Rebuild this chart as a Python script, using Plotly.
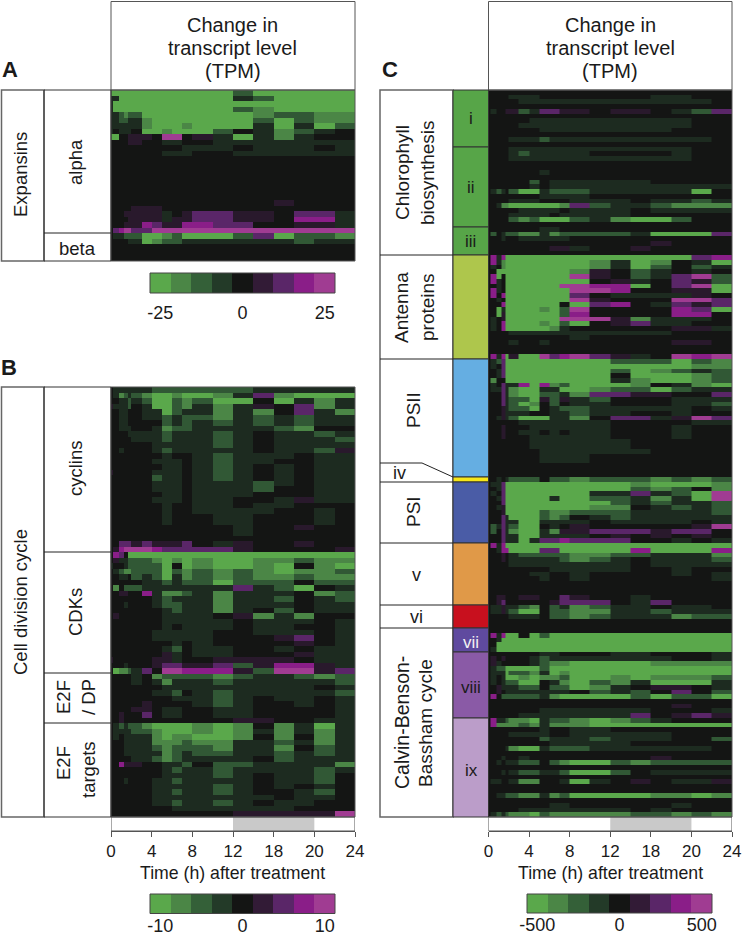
import plotly.graph_objects as go

# Time edges of the 19 measured intervals (hours)
time_edges = [0, 0.16, 0.82, 1.25, 1.64, 2, 3, 4, 5, 6, 7, 8, 10, 12, 14, 16, 18, 20, 22, 24]
tick_vals = [0, 4, 8, 12, 16, 20, 24]
tick_text = ["0", "4", "8", "12", "18", "20", "24"]

# Each row: 19 colour levels. 0 = most green, 4 = zero, 8 = most magenta.
alpha = [
"000000 00000 00200000",
"330000 00000 00320000",
"300000 00000 00000000",
"300000 00000 00210000",
"332122 00000 00012211",
"332233 10000 00020211",
"333333 10001 00030302",
"343334 00100 02431234",
"004455 54884 53031344",
"444455 44334 43333333",
"444444 44443 33433343",
"444444 44333 44333333",
"444444 44444 44444444",
"444444 44444 44444444",
"444444 44444 44444444",
"444444 44444 44444444",
"444444 44444 44444444",
"444444 44444 44444444",
"444444 44444 44444444",
"444444 44444 44444444",
"444444 44444 44445444",
"444445 55444 44444444",
"444555 55345 66554663",
"444455 55355 66554773",
"444555 76557 76644553",
"467886 68888 88888888",
]
beta = [
"433222 00120 00260221",
"444433 01223 33333233",
"444444 44444 44444444",
"444444 44444 44444444",
"444444 44444 44444444",
]
cyclins = [
"433333 32222 22233333",
"431232 10010 01361000",
"443323 20021 20040313",
"533324 30021 31354613",
"443344 33023 31314631",
"443344 33232 21323233",
"443344 44232 32323233",
"443334 43122 33332144",
"444433 33233 32343323",
"444443 33233 32343332",
"444444 43333 32343333",
"443444 43233 33343325",
"444444 44344 32333433",
"444444 43334 32334433",
"444444 44334 32343433",
"544444 43334 32343433",
"444444 42334 32343433",
"444444 43334 33323433",
"444444 43334 33324433",
"444444 44334 33344433",
"444444 43334 33443533",
"444444 44344 33433444",
"444444 44344 33334434",
"444444 44344 43344434",
"444444 44344 43344434",
"444444 44444 44344544",
"444444 44444 44344444",
"444444 44444 44444444",
"446665 65556 43544544",
"457888 87666 66544445",
]
cdks = [
"476400 00000 00000000",
"453322 21010 10011211",
"344322 22040 10010410",
"432112 22021 21210112",
"443342 32031 21211211",
"444444 33232 20222422",
"414222 33333 33632043",
"445544 73112 31333412",
"444444 43233 31332432",
"444344 43223 31333433",
"444444 44323 31342433",
"454444 44333 34513144",
"444444 44333 33433343",
"444444 44343 33433443",
"444444 43333 34433343",
"444444 43333 34445643",
"444444 44434 34444543",
"444444 44324 33443433",
"444444 44534 33444533",
"544444 45534 45555433",
"444344 45665 56257753",
"401123 64887 77528856",
]
e2f_dp = [
"444443 41222 21233212",
"444443 43133 32333332",
"444444 44333 33333343",
"444444 43324 32333332",
"444444 44433 32343343",
"444444 54444 32344343",
"444445 54334 43344443",
"445444 64334 43344443",
"445444 44444 44554433",
]
e2f_targets = [
"432322 10000 10141303",
"433332 21000 10131313",
"434333 31011 00141413",
"444333 31112 11332313",
"444333 32122 21331423",
"444333 33123 22332323",
"444443 32123 33342333",
"447555 44332 42233331",
"444444 44323 32333323",
"444444 44333 32343324",
"444344 43323 33343324",
"444444 43333 32343434",
"444444 43323 32344324",
"444444 43333 33334334",
"444444 43323 32343344",
"444444 44433 33333444",
"444444 44444 44555558",
]
chl_i = [
"44444 444444 44444444",
"44444 333444 44443344",
"44444 433333 33333334",
"44444 444444 44444444",
"43445 523665 54554326",
"44444 444444 44444444",
"44444 443333 33333344",
"44444 433333 33333344",
"44444 444333 33333444",
"44444 444444 44444444",
"44444 333233 33333334",
"44444 444444 44444444",
]
chl_ii = [
"44444 333333 33333344",
"44444 323333 34444344",
"44444 333333 33333344",
"44444 444444 44444444",
"44444 444444 44444444",
"44444 444344 44444444",
"44444 444444 44444444",
"44444 442433 33334444",
"44444 443433 33333333",
"43234 200322 23333304",
"44444 444333 34444444",
"44444 333444 33343323",
"44311 000001 62332111",
"44444 433334 33343333",
"44444 333343 33344444",
"44444 212000 23100244",
"44444 444444 44444444",
]
chl_iii = [
"44444 444334 44444444",
"42432 211312 22230006",
"44434 433333 44444444",
"44444 444444 44445444",
"44444 444455 34454444",
"44444 444444 44444444",
]
antenna = [
"47370 000000 00000067",
"47310 000000 01301430",
"43410 000000 01302423",
"44000 000000 15423434",
"47040 000000 85423682",
"47340 000000 04534652",
"44340 000008 87704680",
"47340 000000 88744550",
"47470 000000 64333354",
"44340 000000 85444886",
"44470 000004 06743656",
"44030 000102 84444760",
"44050 000002 74444774",
"43450 000008 88513334",
"43470 000102 04563344",
"43470 000013 44444553",
"44444 333333 33333444",
"44444 444444 34444444",
"44444 344344 44444554",
"44444 444444 44444444",
"44444 444444 44444444",
"47370 500867 86534878",
]
psii = [
"43260 000000 00222021",
"43460 000000 00000011",
"44360 000000 00201232",
"44360 000000 00400012",
"41440 000000 00310012",
"43463 370712 00014310",
"43363 100330 01220233",
"44463 100223 16655446",
"44463 220525 32444333",
"44463 201424 33444332",
"44453 220432 23333343",
"44453 334433 23344344",
"44353 200033 14663586",
"44444 433333 33444433",
"44454 443333 33444344",
"44454 433434 33444344",
"44454 443333 33444344",
"44444 443333 33344444",
"44444 443333 33344444",
"44444 444333 33334444",
"44444 444333 34444444",
"44444 444333 34444444",
"44444 444444 44444444",
"44444 444444 44444444",
"44444 444444 44444444",
]
group_iv = [
"44343 222422 12221212",
]
psi = [
"43360 000000 00010001",
"44360 000000 00021241",
"43460 000000 03363208",
"44360 000030 02231308",
"44460 000000 00232332",
"44350 000000 01143232",
"44450 000211 22233332",
"44463 000212 43233333",
"44463 300333 34333343",
"42363 200434 54444458",
"42463 100315 56665664",
"44463 300333 34545454",
"44463 303667 66644343",
]
group_v = [
"47370 000000 00000000",
"44377 000660 00070007",
"44454 322222 11223331",
"44454 333332 12343332",
"44444 333333 33343333",
"44444 444433 33344344",
"44444 443344 34444343",
"44444 444344 34444443",
"44444 444444 44444444",
"44444 444444 44444444",
"44444 444444 44444444",
"44554 455446 54434444",
"44564 444456 66436444",
]
group_vi = [
"43353 321423 12334334",
"43353 200422 11332333",
"44444 333422 12333122",
"44444 444444 44444444",
"44444 444444 44444444",
]
group_vii = [
"44444 444444 44444444",
"47370 040200 00000000",
"44300 000000 00000000",
"44000 000000 00000000",
"43000 000000 00000000",
]
group_viii = [
"44444 444334 44334443",
"45454 443233 33333443",
"45344 443211 00001111",
"43220 000200 00000000",
"43330 221301 00000000",
"43430 010112 00101112",
"43432 200431 02130003",
"44533 322422 01345543",
"44543 333333 42324642",
"47422 222310 00020220",
"44444 444444 44444444",
"44444 444444 44444544",
"44444 444333 33334443",
"44444 433333 33364565",
]
group_ix = [
"47332 110322 10123444",
"47111 121311 10000000",
"44444 444344 33444444",
"44444 333344 33333444",
"44444 444233 32333442",
"44444 444433 33344444",
"44443 100322 23333334",
"44444 444444 44444444",
"44434 434444 44445444",
"44343 322421 00212222",
"44444 444444 44444444",
"44434 322332 00243333",
"44444 444444 44444444",
"43344 311443 03454335",
"44444 444444 44444444",
"44444 444444 44444444",
"44332 211312 00001101",
"44444 444444 44444444",
"44444 444433 44444344",
"44444 433333 33343444",
"43232 110211 11122121",
]

level_colors = ["#5aa84b", "#4b8646", "#346038", "#233a28", "#141514",
                "#321b36", "#5a2668", "#8a1e88", "#a03c92"]
# Strength (in legend steps) that each read level stands for; the faint levels are weaker than a full step.
level_strength = [-4, -3, -1.8, -0.6, 0, 0.7, 2, 3, 4]
limit_a, limit_b, limit_c = 25, 10, 500

W, H = 742, 935
FONT = "Liberation Sans, Arial, sans-serif"


def px(x):
    return x / W


def py(y):
    return 1 - y / H


def decode(rows, limit):
    out = []
    for s in rows:
        s = s.replace(" ", "")
        assert len(s) == 19, s
        out.append([level_strength[int(c)] / 4 * limit for c in s])
    return out


colorscale = [[i / 8, c] for i, c in enumerate(level_colors)]
fig = go.Figure()
shapes = []
ann = []


def text(x, y, t, size=18.5, angle=0, bold=False, color="#1a1a1a"):
    ann.append(dict(x=px(x), y=py(y), xref="paper", yref="paper", text=f"<b>{t}</b>" if bold else t,
                    showarrow=False, textangle=angle, xanchor="center", yanchor="middle",
                    font=dict(family=FONT, size=size, color=color)))


def rect(x0, y0, x1, y1, fill=None, line="#333333", width=1):
    shapes.append(dict(type="rect", xref="paper", yref="paper", x0=px(x0), x1=px(x1), y0=py(y0), y1=py(y1),
                       fillcolor=fill or "rgba(0,0,0,0)", line=dict(color=line, width=width)))


def hline(x0, y0, x1, y1, color="#222222", width=1):
    shapes.append(dict(type="line", xref="paper", yref="paper", x0=px(x0), x1=px(x1), y0=py(y0), y1=py(y1),
                       line=dict(color=color, width=width)))


def panel(idx, rows, limit, x0, x1, y0, y1, time_axis):
    z = decode(rows, limit)
    xn, yn = f"x{idx}", f"y{idx}"
    fig.add_trace(go.Heatmap(z=z, x=time_edges, y=list(range(len(z) + 1)), xaxis=xn, yaxis=yn,
                             colorscale=colorscale, zmin=-limit, zmax=limit, showscale=False, hoverinfo="skip"))
    xa = dict(domain=[px(x0), px(x1)], range=[0, 24], showgrid=False, zeroline=False, fixedrange=True)
    if time_axis:
        xa.update(anchor="free", position=py(831), tickvals=tick_vals, ticktext=tick_text, ticks="outside",
                  ticklen=5, tickwidth=1, tickcolor="#555555", showline=True, linecolor="#555555",
                  tickfont=dict(family=FONT, size=17, color="#1a1a1a"))
        shapes.append(dict(type="rect", xref=xn, yref="paper", x0=12, x1=20, y0=py(831), y1=py(817),
                           fillcolor="#c9c9c9", line=dict(width=0)))
        shapes.append(dict(type="rect", xref=xn, yref="paper", x0=0, x1=24, y0=py(831), y1=py(817),
                           fillcolor="rgba(0,0,0,0)", line=dict(color="#555555", width=1)))
        text((x0 + x1) / 2, 873, "Time (h) after treatment", 17.7)
    else:
        xa.update(visible=False, anchor=yn)
    ya = dict(domain=[py(y1), py(y0)], range=[len(z), 0], visible=False, anchor=xn, fixedrange=True)
    fig.update_layout({f"xaxis{idx}": xa, f"yaxis{idx}": ya})
    rect(x0, y0, x1, y1, line="#555555", width=1)


def legend(idx, limit, x0, x1, y0, y1, standoff):
    step = limit / 4
    centers = [step * k for k in range(-4, 5)]
    xn, yn = f"x{idx}", f"y{idx}"
    fig.add_trace(go.Heatmap(z=[centers], x=centers, y=[0], xaxis=xn, yaxis=yn, colorscale=colorscale,
                             zmin=-limit, zmax=limit, showscale=False, hoverinfo="skip"))
    fig.update_layout({
        f"xaxis{idx}": dict(domain=[px(x0), px(x1)], range=[-limit - step / 2, limit + step / 2], anchor=yn,
                            tickvals=[-limit, 0, limit], ticktext=[f"-{limit}", "0", f"{limit}"],
                            ticks="", showgrid=False, zeroline=False, ticklabelstandoff=standoff,
                            tickfont=dict(family=FONT, size=18, color="#1a1a1a"), fixedrange=True),
        f"yaxis{idx}": dict(domain=[py(y1), py(y0)], range=[-0.5, 0.5], visible=False, anchor=xn, fixedrange=True),
    })
    rect(x0, y0, x1, y1, line="#444444", width=1)


panel_a = alpha + beta
panel_b = cyclins + cdks + e2f_dp + e2f_targets
panel_c = (chl_i + chl_ii + chl_iii + antenna + psii + group_iv + psi + group_v
           + group_vi + group_vii + group_viii + group_ix)

panel(1, panel_a, limit_a, 111, 355, 90, 261, False)
panel(2, panel_b, limit_b, 111, 355, 387, 817, True)
panel(3, panel_c, limit_c, 488.5, 732, 90, 817, True)
legend(4, limit_a, 150, 335, 273, 293, 7)
legend(5, limit_b, 150, 335, 894, 913.5, -1)
legend(6, limit_c, 527, 712, 894, 913, -1)

# Headers
for x0, x1 in [(111, 355), (488.5, 732)]:
    rect(x0, 1.5, x1, 90, line="#555555")
    xc = (x0 + x1) / 2
    text(xc, 25, "Change in", 20)
    text(xc, 48, "transcript level", 20)
    text(xc, 71, "(TPM)", 20)

text(10, 70, "A", 22, bold=True)
text(9, 367, "B", 22, bold=True)
text(390, 70, "C", 22, bold=True)

# Panel A labels
rect(1.5, 90, 44, 261, line="#666666", width=1.5)
rect(44, 90, 111, 261, line="#333333")
hline(44, 233, 111, 233)
text(21, 175, "Expansins", 18.5, -90)
text(76, 162, "alpha", 18.5, -90)
text(77, 248, "beta", 18.5)

# Panel B labels
rect(1.5, 387, 44, 817, line="#666666", width=1.5)
rect(44, 387, 111, 817, line="#333333")
hline(44, 552, 111, 552)
hline(44, 673, 111, 673)
hline(44, 723, 111, 723)
text(20, 602, "Cell division cycle", 18.5, -90)
text(76, 468, "cyclins", 18.5, -90)
text(75, 612, "CDKs", 18.5, -90)
text(63, 697, "E2F", 18.5, -90)
text(88, 697, "/ DP", 18.5, -90)
text(63, 763, "E2F", 18.5, -90)
text(88, 770, "targets", 18.5, -90)

# Panel C labels
rect(380, 90, 453, 817, line="#666666", width=1.5)
colour_blocks = [
    (90, 147, "#57a548"), (147, 227, "#57a548"), (227, 255, "#57a548"), (255, 359, "#aec64c"),
    (359, 477, "#65aee2"), (477, 482, "#f6e61a"), (482, 543, "#4a5ca6"), (543, 605, "#e09948"),
    (605, 628, "#c8101e"), (628, 652, "#5f4a9f"), (652, 718, "#8a5aa6"), (718, 817, "#bb9dc9"),
]
for y0, y1, c in colour_blocks:
    rect(453, y0, 488.5, y1, fill=c, line="#333333")
for y in [255, 359, 482, 543, 605, 628]:
    hline(380, y, 453, y)
hline(380, 463, 422, 463)
hline(422, 463, 453, 477)
text(402, 173, "Chlorophyll", 19, -90)
text(427, 173, "biosynthesis", 19, -90)
text(402, 308, "Antenna", 19, -90)
text(427, 307, "proteins", 19, -90)
text(413, 410, "PSII", 19, -90)
text(413, 512, "PSI", 19, -90)
text(400, 473, "iv", 18)
text(416, 575, "v", 18)
text(416, 617, "vi", 18)
text(402, 723, "Calvin-Benson-", 19.5, -90)
text(425, 723, "Bassham cycle", 19, -90)
text(470.5, 118, "i", 17)
text(470.5, 188, "ii", 17)
text(470.5, 242, "iii", 17)
text(471, 642, "vii", 17, color="#f2f2f2")
text(471, 687, "viii", 17)
text(471, 770, "ix", 17)

fig.update_layout(width=W, height=H, margin=dict(l=0, r=0, t=0, b=0, autoexpand=False), paper_bgcolor="white",
                  plot_bgcolor="white", showlegend=False, shapes=shapes, annotations=ann)
fig.write_html("out.html", config={"displayModeBar": False},
               post_script="document.body.style.margin='0';")
